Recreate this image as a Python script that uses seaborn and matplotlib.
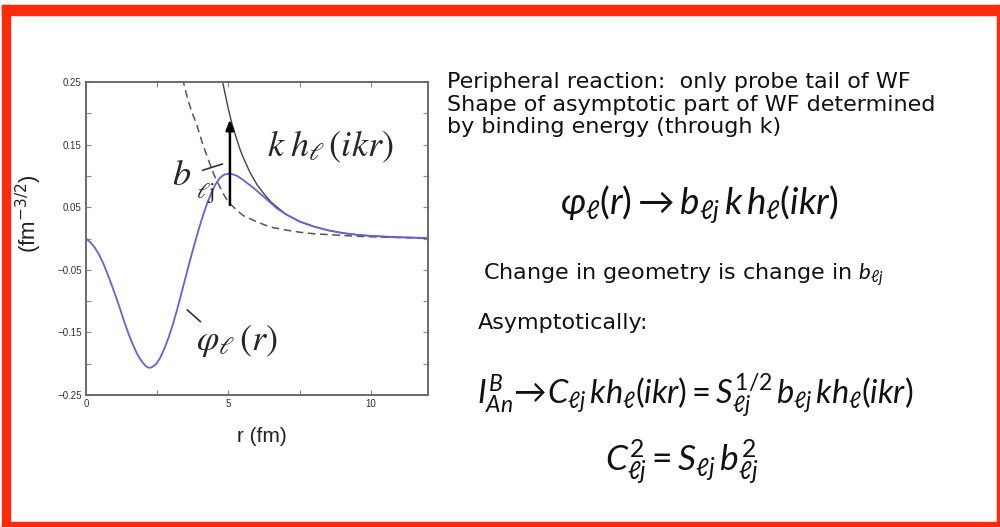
import numpy as np
import pandas as pd
import matplotlib
matplotlib.use("Agg")
import matplotlib.pyplot as plt
from matplotlib.patches import Rectangle
import seaborn as sns

# ---------------- data ----------------
r_phi = [0.00, 0.15, 0.30, 0.45, 0.60, 0.75, 0.90, 1.05, 1.20, 1.35, 1.50, 1.65, 1.80,
         1.95, 2.10, 2.20, 2.30, 2.45, 2.60, 2.75, 2.90, 3.05, 3.20, 3.35, 3.50, 3.65,
         3.80, 3.95, 4.10, 4.25, 4.40, 4.55, 4.70, 4.85, 5.00, 5.15, 5.30, 5.50, 5.70,
         5.85, 6.00, 6.20, 6.43, 6.70, 7.00, 7.50, 8.00, 8.50, 9.00, 9.50, 10.0, 11.0, 12.0]
phi = [0.000, -0.006, -0.014, -0.025, -0.039, -0.056, -0.074, -0.093, -0.113, -0.134,
       -0.153, -0.170, -0.185, -0.196, -0.204, -0.2065, -0.206, -0.201, -0.191, -0.176,
       -0.158, -0.137, -0.113, -0.087, -0.061, -0.035, -0.010, 0.014, 0.036, 0.056,
       0.073, 0.087, 0.097, 0.102, 0.1035, 0.1025, 0.100, 0.094, 0.087, 0.082, 0.076,
       0.068, 0.059, 0.048, 0.039, 0.027, 0.019, 0.013, 0.0088, 0.006, 0.0041, 0.0019,
       0.0009]

r_kh = [4.70, 4.80, 4.90, 5.00, 5.10, 5.25, 5.40, 5.50, 5.75, 6.00, 6.25, 6.50, 7.00,
        7.50, 8.00, 8.50, 9.00, 9.50, 10.0, 11.0, 12.0]
kh = [0.272, 0.249, 0.227, 0.206, 0.187, 0.164, 0.143, 0.131, 0.106, 0.086, 0.071,
      0.058, 0.039, 0.027, 0.019, 0.013, 0.0088, 0.006, 0.0041, 0.0019, 0.0009]

r_dash = [3.30, 3.40, 3.50, 3.60, 3.73, 3.87, 4.00, 4.10, 4.22, 4.34, 4.50, 4.69, 4.85,
          5.00, 5.25, 5.50, 5.85, 6.25, 6.50, 7.00, 7.50, 8.00, 8.77, 9.50, 10.5, 12.0]
dash = [0.275, 0.253, 0.235, 0.218, 0.200, 0.184, 0.165, 0.150, 0.135, 0.120, 0.101,
        0.083, 0.069, 0.058, 0.047, 0.037, 0.0296, 0.022, 0.018, 0.0136, 0.010, 0.0075,
        0.0056, 0.0035, 0.002, 0.0006]

arrow_r = 5.05
arrow_from = 0.0535
arrow_to = 0.19

xticks = [0, 2.5, 5, 7.5, 10]
xticklabels = ["0", "", "5", "", "10"]
yticks = [-0.25, -0.2, -0.15, -0.1, -0.05, 0.0, 0.05, 0.1, 0.15, 0.2, 0.25]
yticklabels = ["\u22120.25", "", "\u22120.15", "", "\u22120.05", "", "0.05", "", "0.15", "", "0.25"]

text_lines = ["Peripheral reaction:  only probe tail of WF",
              "Shape of asymptotic part of WF determined",
              "by binding energy (through k)"]

# ---------------- style ----------------
sns.set_theme(style="ticks")
plt.rcParams["font.family"] = ["Liberation Sans", "DejaVu Sans"]
plt.rcParams["mathtext.fontset"] = "custom"
plt.rcParams["mathtext.it"] = "Lato:italic"
plt.rcParams["mathtext.rm"] = "Lato"
plt.rcParams["mathtext.bf"] = "Lato:bold"

W, H = 1000, 527
fig = plt.figure(figsize=(10, 5.27), dpi=100)
fig.patch.set_facecolor("white")


def fx(x):
    return x / W


def fy(y):
    return 1 - y / H


# red slide frame
red = "#fd2a0c"
for (x0, y0, x1, y1) in [(2, 5, 1000, 15), (2, 5, 10, 527), (2, 522, 1000, 527), (997, 5, 1000, 527)]:
    fig.patches.append(Rectangle((fx(x0), fy(y1)), fx(x1) - fx(x0), fy(y0) - fy(y1),
                                 transform=fig.transFigure, color=red, zorder=0))

# ---------------- plot ----------------
ax = fig.add_axes([fx(86), fy(395), fx(428) - fx(86), fy(82) - fy(395)])
df_phi = pd.DataFrame({"r": r_phi, "v": phi})
df_kh = pd.DataFrame({"r": r_kh, "v": kh})
df_dash = pd.DataFrame({"r": r_dash, "v": dash})

sns.lineplot(data=df_dash, x="r", y="v", ax=ax, color="#555555", linewidth=1.1,
             linestyle=(0, (5, 3)), sort=False)
sns.lineplot(data=df_kh, x="r", y="v", ax=ax, color="#444444", linewidth=1.0, sort=False)
sns.lineplot(data=df_phi, x="r", y="v", ax=ax, color="#6262dc", linewidth=1.3, sort=False)

ax.annotate("", xy=(arrow_r, arrow_to), xytext=(arrow_r, arrow_from),
            arrowprops=dict(arrowstyle="-|>,head_length=0.5,head_width=0.2",
                            color="black", lw=1.8, shrinkA=0, shrinkB=0))

ax.set_xlim(0, 12)
ax.set_ylim(-0.25, 0.25)
ax.set_xticks(xticks)
ax.set_xticklabels(xticklabels)
ax.set_yticks(yticks)
ax.set_yticklabels(yticklabels)
ax.tick_params(direction="in", top=True, right=True, length=3.5, width=0.8,
               color="#888888", labelsize=7, labelcolor="#333333", pad=3)
for s in ax.spines.values():
    s.set_color("#6a6a6a")
    s.set_linewidth(1.4)
ax.set_xlabel("")
ax.set_ylabel("")

# labels inside the plot (serif math)
ax.text(8.56, 0.146, r"$k\;h_{\ell}\,(ikr)$", fontsize=26, ha="center", va="center",
        math_fontfamily="stix")
ax.text(3.37, 0.100, r"$b$", fontsize=26, ha="center", va="center",
        math_fontfamily="stix")
ax.text(4.2, 0.073, r"$\ell\mathrm{j}$", fontsize=16, ha="center", va="center",
        math_fontfamily="stix")
ax.plot([4.09, 4.79], [0.109, 0.119], color="#333333", lw=1.2)
ax.text(5.3, -0.163, r"$\varphi_{\ell}\,(r)$", fontsize=26, ha="center", va="center",
        math_fontfamily="stix")
ax.plot([3.55, 4.02], [-0.114, -0.133], color="#333333", lw=1.2)

fig.text(fx(262), fy(437), "r (fm)", fontsize=15, ha="center", va="center", color="#222222")
fig.text(fx(29), fy(214), r"(fm$^{-3/2}$)", fontsize=16, ha="center", va="center",
         rotation=90, color="#222222", math_fontfamily="dejavusans")

# ---------------- right-hand text ----------------
tcol = "#111111"
fs = 16
tfam = ["DejaVu Sans"]
for txt, yb in zip(text_lines, [88, 111, 133]):
    fig.text(fx(447), fy(yb), txt, fontsize=fs, family=tfam,
             ha="left", va="baseline", color=tcol)
fig.text(fx(699), fy(214), r"$\varphi_{\ell}(r) \rightarrow b_{\ell j}\,k\,h_{\ell}(ikr)$",
         fontsize=26.5, ha="center", va="baseline", color=tcol)
fig.text(fx(483), fy(280), r"Change in geometry is change in $b_{\ell j}$", fontsize=fs,
         family=tfam, ha="left", va="baseline", color=tcol)
fig.text(fx(478), fy(329), "Asymptotically:", fontsize=fs, family=tfam,
         ha="left", va="baseline", color=tcol)
fig.text(fx(695), fy(404),
         r"$I^{B}_{An}\!\rightarrow\! C_{\ell j}\,k h_{\ell}(ikr) = S^{1/2}_{\ell j}\,b_{\ell j}\,k h_{\ell}(ikr)$",
         fontsize=23.5, ha="center", va="baseline", color=tcol)
fig.text(fx(682), fy(470), r"$C^{2}_{\ell j} = S_{\ell j}\,b^{2}_{\ell j}$",
         fontsize=25.5, ha="center", va="baseline", color=tcol)

fig.savefig("out.png", dpi=100, facecolor="white")
